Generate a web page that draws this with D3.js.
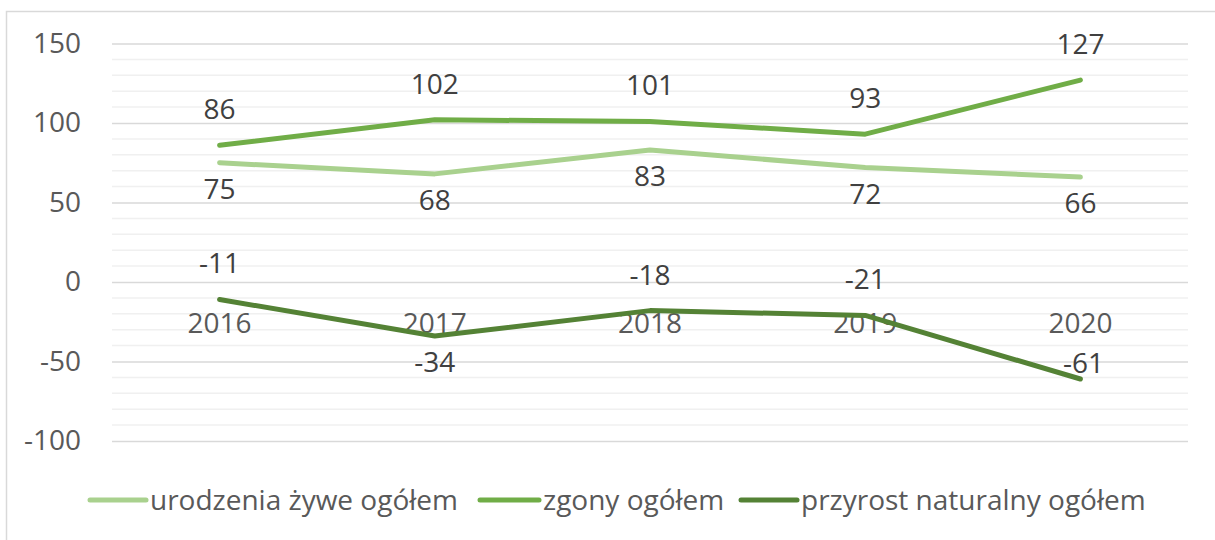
<!DOCTYPE html>
<html>
<head>
<meta charset="utf-8">
<script src="https://cdn.jsdelivr.net/npm/d3@7"></script>
<style>
  html, body { margin: 0; padding: 0; background: #fff; }
  svg { display: block; font-family: "Open Sans", "Liberation Sans", sans-serif; }
</style>
</head>
<body>
<svg id="chart" width="1215" height="540"></svg>
<script>
// Years on the category axis
const years = ["2016", "2017", "2018", "2019", "2020"];
// Series values
const births = [75, 68, 83, 72, 66];
const deaths = [86, 102, 101, 93, 127];
const growth = [-11, -34, -18, -21, -61];
// Y axis ticks
const yTicks = [-100, -50, 0, 50, 100, 150];

const series = [
  { name: "urodzenia żywe ogółem", values: births, color: "#a9d18e", labelPos: ["below", "below", "below", "below", "below"] },
  { name: "zgony ogółem", values: deaths, color: "#70ad47", labelPos: ["above", "above", "above", "above", "above"] },
  { name: "przyrost naturalny ogółem", values: growth, color: "#548235", labelPos: ["above", "below", "above", "above", "close"] }
];

// baseline offsets of data labels relative to the point
const labelOffset = { above: -26, below: 36, close: -6 };

const FONT = 28;
const svg = d3.select("#chart");
const plot = { left: 112, right: 1188, top: 43.5, bottom: 441 };

// outer chart frame
svg.append("rect")
  .attr("x", 6.5).attr("y", 11.5)
  .attr("width", 1240).attr("height", 560)
  .attr("fill", "none").attr("stroke", "#d9d9d9").attr("stroke-width", 1.5);

const x = d3.scaleBand().domain(years).range([plot.left, plot.right]);
const y = d3.scaleLinear().domain([-100, 150]).range([plot.bottom, plot.top]);

// minor gridlines every 10
const minor = d3.range(-100, 151, 10).filter(v => v % 50 !== 0);
svg.append("g").selectAll("line").data(minor).join("line")
  .attr("x1", plot.left).attr("x2", plot.right)
  .attr("y1", d => y(d)).attr("y2", d => y(d))
  .attr("stroke", "#f0f0f0").attr("stroke-width", 1.5);

// major gridlines + value labels via d3 axis
const yAxis = d3.axisLeft(y).tickValues(yTicks).tickFormat(d => String(d))
  .tickSize(-(plot.right - plot.left)).tickPadding(31);
const gy = svg.append("g").attr("transform", `translate(${plot.left},0)`).call(yAxis);
gy.select(".domain").remove();
gy.selectAll(".tick line").attr("stroke", "#d9d9d9").attr("stroke-width", 1.5);
gy.selectAll(".tick text")
  .attr("fill", "#595959").attr("font-size", FONT)
  .attr("font-family", "'Open Sans', sans-serif");

// category labels just under the zero line
const xAxis = d3.axisBottom(x).tickSize(0).tickPadding(0);
const gx = svg.append("g").attr("transform", `translate(0,${y(0)})`).call(xAxis);
gx.select(".domain").remove();
gx.selectAll(".tick text")
  .attr("fill", "#595959").attr("font-size", FONT)
  .attr("font-family", "'Open Sans', sans-serif")
  .attr("dy", null).attr("y", 51);

const cx = d => x(d) + x.bandwidth() / 2;
const line = d3.line().x(d => cx(d.year)).y(d => y(d.value));

series.forEach(s => {
  const pts = years.map((yr, i) => ({ year: yr, value: s.values[i], pos: s.labelPos[i] }));
  svg.append("path").datum(pts)
    .attr("d", line)
    .attr("fill", "none").attr("stroke", s.color)
    .attr("stroke-width", 5).attr("stroke-linecap", "round").attr("stroke-linejoin", "round");
  svg.append("g").selectAll("text").data(pts).join("text")
    .attr("x", d => cx(d.year) + (d.pos === "close" ? 3 : 0))
    .attr("y", d => y(d.value) + labelOffset[d.pos])
    .attr("text-anchor", "middle")
    .attr("fill", "#404040").attr("font-size", FONT)
    .text(d => d.value);
});

// legend
const legendItems = [
  { x: 90, sw: 56 },
  { x: 480, sw: 59 },
  { x: 741, sw: 56 }
];
const lg = svg.append("g");
series.forEach((s, i) => {
  const it = legendItems[i];
  lg.append("line")
    .attr("x1", it.x).attr("x2", it.x + it.sw)
    .attr("y1", 500).attr("y2", 500)
    .attr("stroke", s.color).attr("stroke-width", 5).attr("stroke-linecap", "round");
  lg.append("text")
    .attr("x", it.x + it.sw + 4).attr("y", 510)
    .attr("fill", "#595959").attr("font-size", FONT)
    .text(s.name);
});
</script>
</body>
</html>
